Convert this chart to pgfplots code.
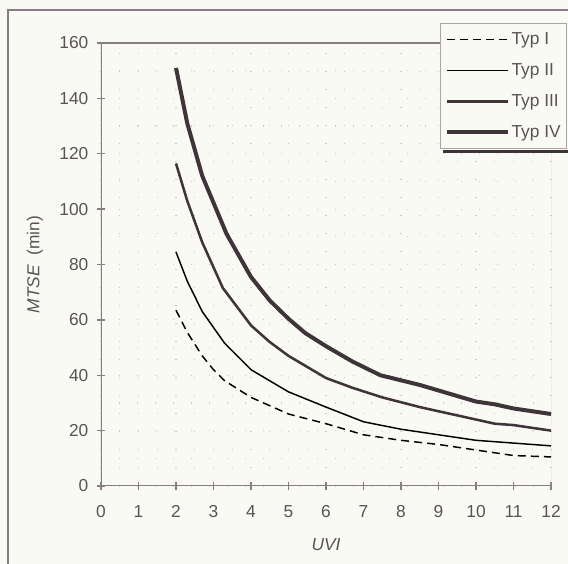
\documentclass[border=0pt]{standalone}
\usepackage{fontspec}
\setmainfont{Liberation Sans}
\usepackage{pgfplots}
\pgfplotsset{compat=1.18}

\definecolor{bg}{HTML}{FAFAF4}
\definecolor{frame}{HTML}{8A7C84}
\definecolor{curve}{HTML}{3E3439}
\definecolor{thin}{HTML}{5E5158}
\definecolor{txt}{HTML}{5A5257}
\definecolor{griddot}{HTML}{CDC9C4}

\begin{document}
\begin{tikzpicture}
% page area and outer frame
\useasboundingbox (-75.75pt,-58.5pt) rectangle (350.25pt,364.5pt);
\fill[bg] (-75.75pt,-58.5pt) rectangle (350.25pt,364.5pt);
\draw[frame, line width=1.6pt] (-69.75pt,-90pt) rectangle (390pt,357pt);

\begin{axis}[
  at={(0pt,0pt)}, anchor=south west,
  scale only axis, width=337.5pt, height=332.25pt,
  xmin=0, xmax=12, ymin=0, ymax=160,
  xtick={0,...,12}, ytick={0,20,...,160},
  minor x tick num=1, minor y tick num=1,
  xtick pos=bottom, ytick pos=left,
  tick align=center, major tick length=6pt, minor tick length=0pt,
  tick style={frame, line width=1pt},
  axis line style={draw=none},
  grid=both,
  major grid style={griddot, line width=0.9pt, dash pattern=on 0.9pt off 12.6pt},
  minor grid style={griddot, line width=0.9pt, dash pattern=on 0.9pt off 12.6pt},
  ticklabel style={font=\fontsize{13}{15}\selectfont, text=txt},
  xticklabel style={yshift=-8pt},
  yticklabel style={xshift=-3pt},
  /pgf/number format/assume math mode=true,
  xlabel={\textit{UVI}},
  ylabel={\textit{MTSE}\ \ (min)},
  label style={font=\fontsize{13}{15}\selectfont, text=txt},
  xlabel style={at={([yshift=-44pt]rel axis cs:0.5,0)}, anchor=center},
  ylabel style={at={([xshift=-49.5pt]rel axis cs:0,0.5)}, anchor=center},
  legend style={
    at={(rel axis cs:0.753,1.0451)}, anchor=north west,
    draw=frame!70, line width=0.6pt, fill=bg,
    font=\fontsize{13}{15}\selectfont, text=txt,
    inner xsep=3.5pt, inner ysep=4.5pt,
    row sep=8.25pt,
    nodes={inner sep=1pt, text height=10pt, text depth=3pt},
  },
  legend cell align=left,
  legend image code/.code={\draw[#1] (0pt,0pt) -- (46pt,0pt);},
]

% Typ I
\addplot[thin, line width=1.1pt, dash pattern=on 6pt off 3.8pt] coordinates {
  (2,63.5) (2.3,55.5) (2.7,47) (3,42) (3.3,38) (4,32) (5,26)
  (6,22.5) (7,18.5) (8,16.5) (9,15) (10,13) (11,11) (12,10.5)};
\addlegendentry{Typ I}

% Typ II
\addplot[thin, line width=1.1pt] coordinates {
  (2,84.5) (2.3,74) (2.7,63) (3.3,51.5) (4,42) (5,34) (6,28.5)
  (7,23.2) (8,20.5) (9,18.5) (10,16.5) (11,15.5) (12,14.5)};
\addlegendentry{Typ II}

% Typ III
\addplot[curve, line width=1.9pt] coordinates {
  (2,116.5) (2.3,103) (2.7,88) (3.25,71.5) (4,58) (4.5,52) (5,47)
  (5.5,43) (6,39) (6.7,35.5) (7.5,32) (8.5,28.5) (9,27) (10,24)
  (10.5,22.5) (11,22) (12,20)};
\addlegendentry{Typ III}

% Typ IV
\addplot[curve, line width=3pt] coordinates {
  (2,151) (2.3,131) (2.7,112) (3.35,91) (4,75.5) (4.5,67) (5,60.4)
  (5.45,55.2) (6,50.5) (6.7,45) (7.45,40) (8.5,36.5) (9,34.5)
  (10,30.5) (10.5,29.5) (11,28) (12,26)};
\addlegendentry{Typ IV}

% plot area border
\draw[frame, line width=1.5pt] (rel axis cs:0,1) -- (rel axis cs:0,0) -- (rel axis cs:1,0);
\draw[frame, line width=1.2pt] (rel axis cs:0,1) -- (rel axis cs:1,1);
\draw[frame!70, line width=0.6pt] (rel axis cs:1,0) -- (rel axis cs:1,1);
\end{axis}
% shadow under the legend box
\draw[curve, line width=2.6pt] (256.5pt,251pt) -- (420pt,251pt);
\end{tikzpicture}
\end{document}
